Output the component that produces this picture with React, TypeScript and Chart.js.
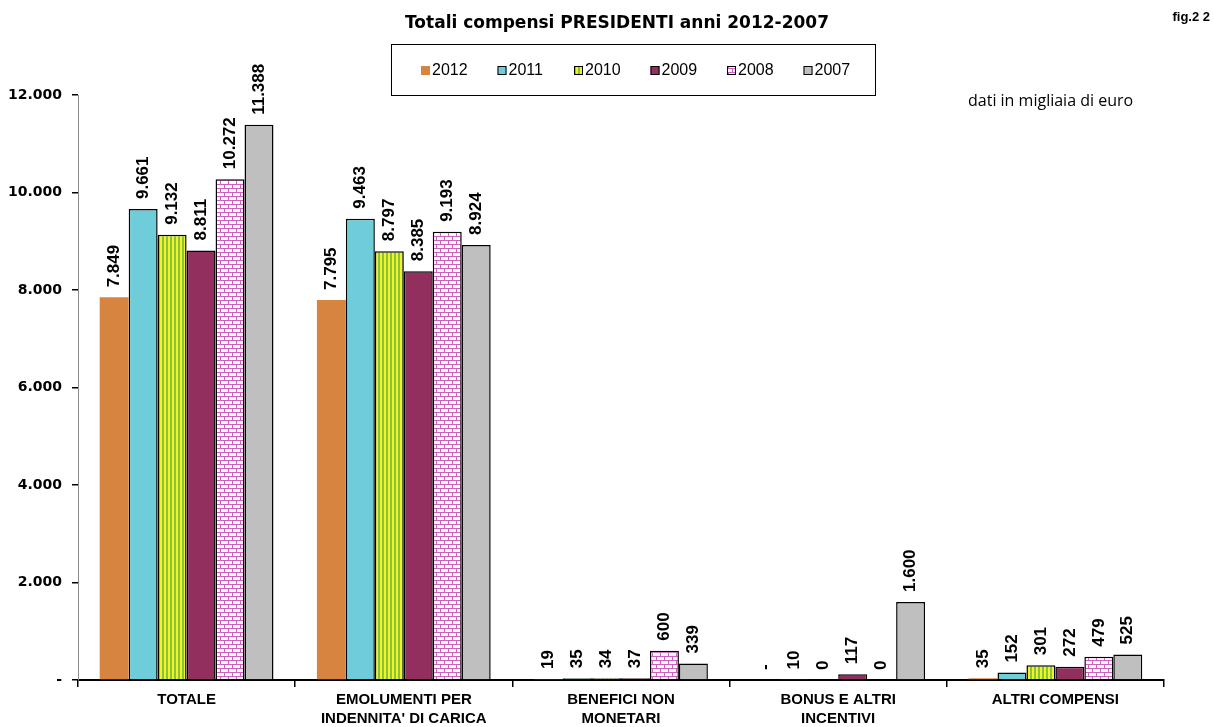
import React, { useEffect, useRef } from "react";
import { Chart, registerables } from "chart.js";

Chart.register(...registerables);

const categories: string[][] = [
  ["TOTALE"],
  ["EMOLUMENTI PER", "INDENNITA' DI CARICA"],
  ["BENEFICI NON", "MONETARI"],
  ["BONUS E ALTRI", "INCENTIVI"],
  ["ALTRI COMPENSI"],
];

const years = ["2012", "2011", "2010", "2009", "2008", "2007"];

const values2012: (number | null)[] = [7849, 7795, 19, null, 35];
const values2011: (number | null)[] = [9661, 9463, 35, 10, 152];
const values2010: (number | null)[] = [9132, 8797, 34, 0, 301];
const values2009: (number | null)[] = [8811, 8385, 37, 117, 272];
const values2008: (number | null)[] = [10272, 9193, 600, 0, 479];
const values2007: (number | null)[] = [11388, 8924, 339, 1600, 525];

const yTicks = [0, 2000, 4000, 6000, 8000, 10000, 12000];

const TITLE = "Totali compensi PRESIDENTI anni 2012-2007";
const FIG = "fig.2 2";
const NOTE = "dati in migliaia di euro";

const FONT = '"Liberation Sans", Arial, sans-serif';
const WIDE = '"DejaVu Sans", sans-serif';

function fmt(v: number | null): string {
  if (v === null || v === undefined) return "-";
  return Math.round(v)
    .toString()
    .replace(/\B(?=(\d{3})+(?!\d))/g, ".");
}

function stripePattern(): CanvasPattern | string {
  const c = document.createElement("canvas");
  c.width = 4;
  c.height = 4;
  const g = c.getContext("2d");
  if (!g) return "#c8dc30";
  g.fillStyle = "#f2f224";
  g.fillRect(0, 0, 4, 4);
  g.fillStyle = "#86c440";
  g.fillRect(2, 0, 2, 4);
  return g.createPattern(c, "repeat") || "#c8dc30";
}

function brickPattern(): CanvasPattern | string {
  const c = document.createElement("canvas");
  c.width = 8;
  c.height = 8;
  const g = c.getContext("2d");
  if (!g) return "#f0c0e0";
  g.fillStyle = "#ffffff";
  g.fillRect(0, 0, 8, 8);
  g.fillStyle = "#d060c0";
  g.fillRect(0, 0, 8, 1);
  g.fillRect(0, 4, 8, 1);
  g.fillRect(0, 0, 1, 4);
  g.fillRect(4, 4, 1, 4);
  return g.createPattern(c, "repeat") || "#f0c0e0";
}

export default function App() {
  const ref = useRef<HTMLCanvasElement | null>(null);

  useEffect(() => {
    const canvas = ref.current;
    if (!canvas) return;

    const stripes = stripePattern();
    const bricks = brickPattern();

    const fills: (string | CanvasPattern)[] = [
      "#d6843f",
      "#6ecdd9",
      stripes,
      "#922f5e",
      bricks,
      "#bfbfbf",
    ];
    const borders = [0, 1.5, 1.5, 1.5, 1.5, 1.5];
    const series = [values2012, values2011, values2010, values2009, values2008, values2007];

    const datasets = years.map((y, i) => ({
      label: y,
      data: series[i],
      backgroundColor: fills[i],
      borderColor: "#000000",
      borderWidth: borders[i],
      borderSkipped: "bottom" as const,
      barPercentage: 1.0,
      categoryPercentage: 0.8,
    }));

    const labelPlugin = {
      id: "valueLabels",
      afterDatasetsDraw(chart: any) {
        const ctx = chart.ctx;
        ctx.save();
        ctx.font = `bold 17px ${FONT}`;
        ctx.fillStyle = "#000";
        ctx.textAlign = "left";
        ctx.textBaseline = "middle";
        chart.data.datasets.forEach((ds: any, di: number) => {
          const meta = chart.getDatasetMeta(di);
          meta.data.forEach((el: any, idx: number) => {
            const v = ds.data[idx];
            const base = chart.scales.y.getPixelForValue(0);
            const top = v === null ? base : el.y;
            const x = el.x;
            ctx.save();
            ctx.translate(x, top - 10);
            ctx.rotate(-Math.PI / 2);
            ctx.fillText(fmt(v), 0, 0);
            ctx.restore();
          });
        });
        ctx.restore();
      },
    };

    const decorPlugin = {
      id: "decor",
      afterDraw(chart: any) {
        const ctx = chart.ctx;
        ctx.save();
        // Title
        ctx.fillStyle = "#000";
        ctx.font = `bold 17px ${WIDE}`;
        ctx.textAlign = "center";
        ctx.textBaseline = "middle";
        ctx.fillText(TITLE, 617, 24);
        // fig
        ctx.font = `bold 13px ${FONT}`;
        ctx.textAlign = "right";
        ctx.fillText(FIG, 1210, 17);
        // note
        ctx.font = `16px "Open Sans", sans-serif`;
        ctx.textAlign = "left";
        ctx.fillText(NOTE, 968, 101);
        // legend box
        ctx.strokeStyle = "#000";
        ctx.lineWidth = 1;
        ctx.strokeRect(391.5, 44.5, 484, 51);
        ctx.font = `16px ${FONT}`;
        ctx.textBaseline = "middle";
        years.forEach((y, i) => {
          const mx = 421 + i * 76.5;
          const my = 66;
          ctx.fillStyle = fills[i] as any;
          ctx.fillRect(mx, my, 9, 9);
          if (borders[i] > 0) {
            ctx.strokeStyle = "#000";
            ctx.lineWidth = 1;
            ctx.strokeRect(mx + 0.5, my + 0.5, 8, 8);
          }
          ctx.fillStyle = "#000";
          ctx.textAlign = "left";
          ctx.fillText(y, mx + 11, 71);
        });
        ctx.restore();
      },
    };

    const chart = new Chart(canvas, {
      type: "bar",
      data: {
        labels: categories,
        datasets: datasets as any,
      },
      options: {
        responsive: false,
        animation: false,
        layout: { padding: { top: 95, right: 50, left: 0, bottom: 0 } },
        plugins: {
          legend: { display: false },
          title: { display: false },
          tooltip: { enabled: false },
        },
        scales: {
          x: {
            afterFit: (scale: any) => {
              scale.height = 47;
            },
            grid: {
              display: true,
              offset: true,
              drawOnChartArea: false,
              drawTicks: true,
              tickLength: 7,
              color: "#000",
              lineWidth: 1.5,
            },
            border: { display: true, color: "#000", width: 2 },
            ticks: {
              color: "#000",
              padding: 3,
              maxRotation: 0,
              autoSkip: false,
              font: { family: FONT, size: 15, weight: "bold", lineHeight: 1.27 },
            },
          },
          y: {
            min: 0,
            max: 12000,
            afterFit: (scale: any) => {
              scale.width = 78;
            },
            afterBuildTicks: (scale: any) => {
              scale.ticks = yTicks.map((v) => ({ value: v }));
            },
            grid: {
              display: true,
              drawOnChartArea: false,
              drawTicks: true,
              tickLength: 6,
              color: "#000",
              lineWidth: 1.5,
            },
            border: { display: true, color: "#8c8c8c", width: 1 },
            ticks: {
              color: "#000",
              padding: 10,
              font: { family: WIDE, size: 14, weight: "bold" },
              callback: (v: any) => (Number(v) === 0 ? "-" : fmt(Number(v))),
            },
          },
        },
      },
      plugins: [labelPlugin, decorPlugin],
    });

    return () => {
      chart.destroy();
    };
  }, []);

  return (
    <div style={{ position: "absolute", left: 0, top: 0, width: 1214, height: 727, background: "#fff" }}>
      <canvas ref={ref} width={1214} height={727} style={{ display: "block" }} />
    </div>
  );
}
